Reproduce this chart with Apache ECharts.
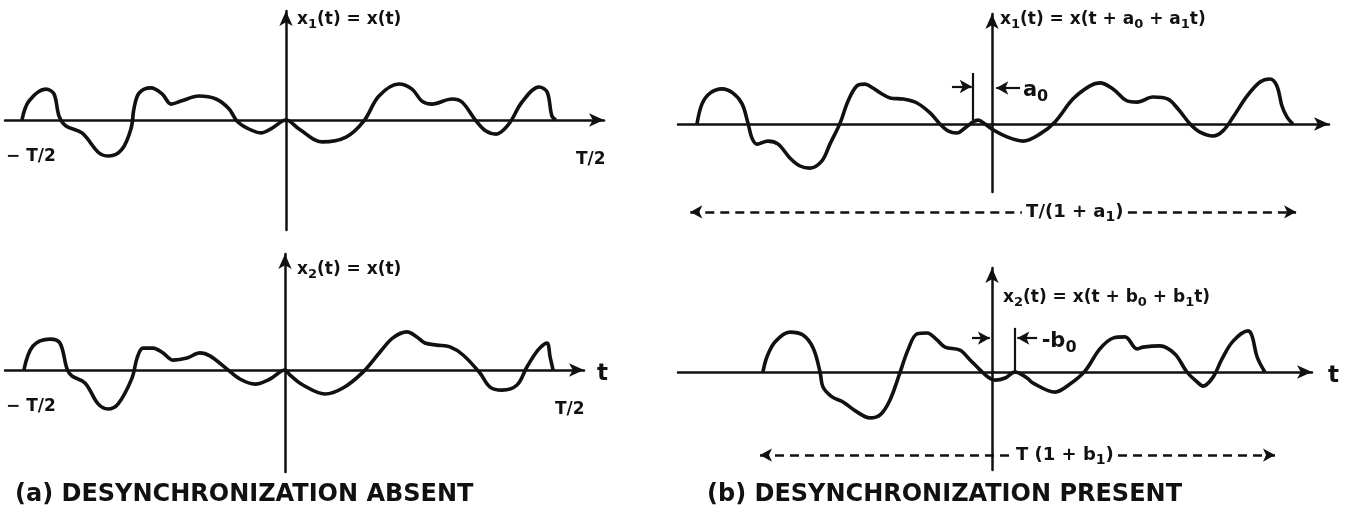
<!DOCTYPE html>
<html><head><meta charset="utf-8">
<script src="https://cdn.jsdelivr.net/npm/echarts@6/dist/echarts.min.js"></script>
<style>html,body{margin:0;padding:0;background:#fff}#c{width:1350px;height:514px}</style>
</head><body><div id="c"></div>
<script>
// ---------- data (t in units where T/2 = 100, amplitude in arbitrary units) ----------
// (a) top: x1(t) = x(t)
const tA1 = [-98.9,-96.3,-89.9,-86.9,-85,-82.4,-76.4,-70,-66.3,-61.4,-58,-56.9,-55,-50.6,-46.4,-43,-39.3,-32.6,-26.2,-21.3,-18.4,-13.9,-9.4,-5.2,0,4.9,13.5,22.5,29.2,34.8,42.3,47.2,50.9,54.7,62.2,65.9,71.2,74.9,78.7,83.5,88.4,94.8,97.8,99.6,101.1];
const xA1 = [0,0.63,1.03,0.87,0.13,-0.2,-0.43,-1.1,-1.2,-0.97,-0.27,0.4,0.9,1.07,0.87,0.53,0.63,0.8,0.7,0.37,-0.03,-0.3,-0.43,-0.27,0,-0.3,-0.73,-0.57,-0.03,0.8,1.2,1.03,0.63,0.53,0.7,0.6,-0.03,-0.37,-0.47,-0.13,0.6,1.1,0.93,0.13,0];
// (a) bottom: x2(t) = x(t)
const tA2 = [-97.8,-94.4,-88,-84.3,-81.6,-79.8,-74.9,-70,-66.3,-62.5,-57.3,-55.4,-53.2,-49.4,-45.7,-41.9,-36.7,-31.8,-28.1,-21.7,-16.9,-11.2,-5.6,0,1.9,6.7,15,21.7,29.2,35.6,40.4,45.7,49.4,52.4,56.9,61.8,66.7,73,76.8,81.3,86.9,90.6,94.8,98.1,99.3,100.4];
const xA2 = [0,0.8,1.03,0.9,0.03,-0.2,-0.43,-1.13,-1.3,-1.13,-0.27,0.4,0.73,0.73,0.57,0.33,0.4,0.57,0.47,0.03,-0.3,-0.47,-0.3,0,-0.17,-0.5,-0.8,-0.6,-0.07,0.6,1.07,1.27,1.1,0.9,0.83,0.77,0.5,-0.1,-0.57,-0.67,-0.5,0.1,0.67,0.9,0.43,0];
// (b) top: x1(t) = x(t + a0 + a1 t)
const tB1 = [-110.5,-108.6,-105.6,-101.1,-97,-93.6,-91.4,-89.9,-88,-83.9,-80.1,-75.7,-71.9,-68.2,-63.7,-60.7,-56.9,-53.9,-50.6,-47.6,-44.6,-41.2,-38.2,-33.3,-28.1,-23.2,-19.5,-16.5,-13.1,-10.1,-7.1,-5.2,-2.6,0,5.6,11.6,18,23.6,30.3,36.7,40.4,45.3,50.6,54.3,60.3,65.9,69.7,74.2,77.9,82.8,86.5,90.3,95.5,100.4,104.1,106.7,108.6,110.5,112.7];
const xB1 = [0,0.67,1.03,1.17,1.03,0.67,0.03,-0.47,-0.67,-0.57,-0.67,-1.13,-1.4,-1.47,-1.23,-0.67,0.03,0.77,1.27,1.33,1.2,1.0,0.87,0.83,0.7,0.37,0,-0.23,-0.3,-0.13,0.07,0.13,0,-0.17,-0.43,-0.57,-0.33,0.07,0.83,1.27,1.37,1.17,0.77,0.73,0.9,0.83,0.5,0,-0.27,-0.4,-0.23,0.23,0.93,1.4,1.5,1.27,0.6,0.23,0];
// (b) bottom: x2(t) = x(t + b0 + b1 t)
const tB2 = [-85.8,-84.3,-81.3,-75.7,-70.8,-67,-64.4,-63.3,-59.9,-55.8,-50.6,-45.7,-41.9,-38.2,-34.5,-31.5,-28.1,-24.3,-20.6,-17.6,-12,-8.2,-4.5,-1.5,1.1,4.9,8.6,13.1,15.4,23.6,29.2,34.8,40.4,45.3,49.8,54.3,56.6,62.9,68.5,73,76.8,79,82.8,86.1,90.3,95.9,97.4,99.3,102.2];
const xB2 = [0,0.5,1.0,1.33,1.23,0.8,0,-0.5,-0.83,-1.0,-1.33,-1.53,-1.43,-0.93,-0.03,0.73,1.27,1.3,1.07,0.83,0.73,0.4,0.07,-0.17,-0.27,-0.2,0,-0.2,-0.37,-0.67,-0.4,0.03,0.77,1.13,1.17,0.77,0.83,0.87,0.6,0,-0.33,-0.47,-0.17,0.43,1.03,1.37,1.2,0.5,0];

// offset markers: [t of marker line, bottom, top]; arrows: [from t, to t, level]
const a0Line = [-7.1, 0.13, 1.7];
const a0Arrows = [[-15, -7.6, 1.25], [10.5, 1.6, 1.2]];
const a0Label = [11.4, 1.12];
const b0Line = [8.6, 0, 1.47];
const b0Arrows = [[-7.5, -0.8, 1.13], [16.9, 9.5, 1.13]];
const b0Label = [18.4, 1.02];
// duration arrows: [left t, label gap start, label gap end, right t, level, label centre t]
const spanB1 = [-113, 11.2, 50.9, 113.9, -2.93, 31];
const spanB2 = [-86.9, 7.5, 47.2, 106, -2.77, 27.3];

// ---------- layout ----------
const PX_T = 2.67, PX_A = 30;
// [left, top, right, bottom, originX, originY] in pixels; the last one is an invisible
// overlay of panel (b)-top that reaches down to the duration arrow
const panels = [
  [5, 11, 604, 230, 286, 120],
  [5, 254, 584, 472, 285, 370],
  [678, 14, 1329, 192, 992, 124],
  [678, 268, 1312, 470, 992, 372],
  [678, 14, 1329, 232, 992, 124]
];
const INK = '#111';
const FONT = "'DejaVu Sans', sans-serif";

const zip = (a, b) => a.map((v, i) => [v, b[i]]);

const axisCommon = {
  type: 'value',
  axisLine: { show: true, onZero: true, symbol: ['none', 'arrow'], symbolSize: [10, 15], lineStyle: { color: INK, width: 2.5 } },
  axisTick: { show: false }, axisLabel: { show: false }, splitLine: { show: false }
};

const grid = panels.map(p => ({ left: p[0], top: p[1], width: p[2] - p[0], height: p[3] - p[1] }));
const xAxis = panels.map((p, i) => Object.assign({}, axisCommon, { show: i < 4, gridIndex: i, min: -(p[4] - p[0]) / PX_T, max: (p[2] - p[4]) / PX_T }));
const yAxis = panels.map((p, i) => Object.assign({}, axisCommon, { show: i < 4, gridIndex: i, min: -(p[3] - p[5]) / PX_A, max: (p[5] - p[1]) / PX_A }));

const seg = (t0, t1, a, s0, s1, style) => [
  { coord: [t0, a], symbol: s0, lineStyle: style },
  { coord: [t1, a], symbol: s1 }
];
const solid = { color: INK, width: 2.2, type: 'solid' };
const dashed = { color: INK, width: 2.6, type: [9, 6] };

function markerLines(line, arrows) {
  return [
    [{ coord: [line[0], line[1]], symbol: 'none', lineStyle: solid }, { coord: [line[0], line[2]], symbol: 'none' }],
    ...arrows.map(r => seg(r[0], r[1], r[2], 'none', 'arrow', solid))
  ];
}
function spanLines(s) {
  return [seg(s[0], s[1], s[4], 'arrow', 'none', dashed), seg(s[2], s[3], s[4], 'none', 'arrow', dashed)];
}
const subRich = size => ({ s: { fontSize: Math.round(size * 0.78), fontWeight: 'bold', fontFamily: FONT, color: INK, fill: INK, padding: [Math.round(size * 0.6), 0, 0, 0] } });
const labelPoint = (coord, text, pos, size) => ({
  coord, value: 0, symbol: 'circle', symbolSize: 1, itemStyle: { color: 'rgba(0,0,0,0)' },
  label: { show: true, formatter: text, position: pos, distance: 0, color: INK, fontFamily: FONT, fontWeight: 'bold', fontSize: size, rich: subRich(size) }
});

function curve(i, t, x, extra) {
  return Object.assign({
    type: 'line', xAxisIndex: i, yAxisIndex: i, data: zip(t, x),
    smooth: 0.35, symbol: 'none', showSymbol: false, clip: false, silent: true, animation: false,
    lineStyle: { color: INK, width: 3.6 }
  }, extra || {});
}
const mlBase = { silent: true, animation: false, symbolSize: [10, 12], label: { show: false }, emphasis: { disabled: true } };
const mpBase = { silent: true, animation: false };

const series = [
  curve(0, tA1, xA1),
  curve(1, tA2, xA2),
  curve(2, tB1, xB1, {
    markLine: Object.assign({}, mlBase, { data: markerLines(a0Line, a0Arrows) }),
    markPoint: Object.assign({}, mpBase, { data: [labelPoint(a0Label, 'a{s|0}', 'right', 21)] })
  }),
  curve(3, tB2, xB2, {
    markLine: Object.assign({}, mlBase, { data: [...markerLines(b0Line, b0Arrows), ...spanLines(spanB2)] }),
    markPoint: Object.assign({}, mpBase, { data: [
      labelPoint(b0Label, '-b{s|0}', 'right', 21),
      labelPoint([spanB2[5], spanB2[4]], 'T (1 + b{s|1})', 'inside', 18)
    ] })
  }),
  {
    type: 'line', xAxisIndex: 4, yAxisIndex: 4, data: [], symbol: 'none', silent: true, animation: false, clip: false,
    markLine: Object.assign({}, mlBase, { data: spanLines(spanB1) }),
    markPoint: Object.assign({}, mpBase, { data: [labelPoint([spanB1[5], spanB1[4]], 'T/(1 + a{s|1})', 'inside', 18)] })
  }
];

const txt = (text, x, y, size, weight) => ({
  type: 'text', silent: true,
  style: { text, x, y, fill: INK, fontFamily: FONT, fontSize: size, fontWeight: weight || 'bold', align: 'left', verticalAlign: 'middle', rich: subRich(size) }
});

const graphic = [
  txt('x{s|1}(t) = x(t)', 297, 20, 17),
  txt('x{s|2}(t) = x(t)', 297, 270, 17),
  txt('x{s|1}(t) = x(t + a{s|0} + a{s|1}t)', 1000, 20, 17),
  txt('x{s|2}(t) = x(t + b{s|0} + b{s|1}t)', 1003, 298, 17),
  txt('− T/2', 6, 157, 17),
  txt('T/2', 576, 160, 17),
  txt('− T/2', 6, 407, 17),
  txt('T/2', 555, 410, 17),
  txt('t', 597, 374, 23),
  txt('t', 1328, 376, 23),
  txt('(a) DESYNCHRONIZATION ABSENT', 15, 495, 24),
  txt('(b) DESYNCHRONIZATION PRESENT', 707, 495, 24)
];

const chart = echarts.init(document.getElementById('c'), null, { renderer: 'canvas' });
chart.setOption({ animation: false, backgroundColor: '#fff', grid, xAxis, yAxis, series, graphic, tooltip: { show: false } });
</script>
</body></html>
